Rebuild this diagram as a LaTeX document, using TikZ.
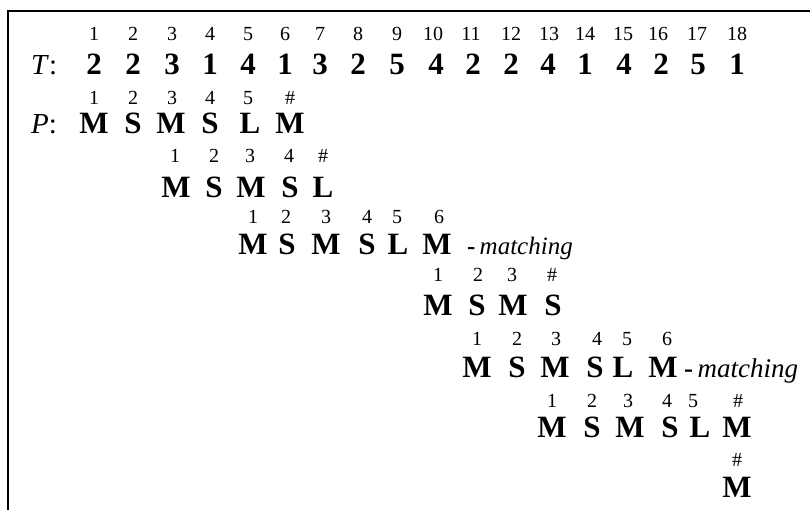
\documentclass[tikz,border=0pt]{standalone}
\usepackage{fontspec}
\setmainfont{Liberation Serif}
\begin{document}
\begin{tikzpicture}[x=1pt,y=-1pt,
  idx/.style={anchor=base,inner sep=0pt,font=\fontsize{20}{20}\selectfont},
  sym/.style={anchor=base,inner sep=0pt,font=\fontsize{31}{31}\selectfont\bfseries},
  lab/.style={anchor=base west,inner sep=0pt,font=\fontsize{29}{29}\selectfont},
  note/.style={anchor=base west,inner sep=0pt,font=\fontsize{25}{25}\selectfont},
  bignote/.style={note,font=\fontsize{27}{27}\selectfont},
  frame/.style={line width=2pt}]
\useasboundingbox (0,0) rectangle (810,510);
% frame
\coordinate (fbl) at (8,511);
\coordinate (ftl) at (8,11);
\coordinate (ftr) at (811,11);
\draw[frame] (fbl) -- (ftl) -- (ftr);
% text T
\node[lab] (tlab) at (31,75) {\textit{T}:};
\foreach \x/\t [count=\i] in {94/1,133/2,172/3,210/4,248/5,285/6,320/7,358/8,397/9,433/10,471/11,511/12,549/13,585/14,623/15,658/16,697/17,737/18}
  \node[idx] (ti\i) at (\x,41) {\t};
\foreach \x/\t [count=\i] in {94/2,133/2,172/3,210/1,248/4,285/1,320/3,358/2,397/5,436/4,473/2,511/2,548/4,585/1,624/4,661/2,698/5,737/1}
  \node[sym] (t\i) at (\x,75) {\t};
% pattern row 1
\node[lab] (plab) at (31,134) {\textit{P}:};
\foreach \x/\t [count=\i] in {94/1,133/2,172/3,210/4,248/5,290/\#}
  \node[idx] (ai\i) at (\x,105) {\t};
\foreach \x/\t [count=\i] in {94/M,133/S,171/M,210/S,250/L,290/M}
  \node[sym] (a\i) at (\x,134) {\t};
% row 2
\foreach \x/\t [count=\i] in {175/1,214/2,250/3,289/4,323/\#}
  \node[idx] (bi\i) at (\x,163) {\t};
\foreach \x/\t [count=\i] in {176/M,214/S,251/M,290/S,323/L}
  \node[sym] (b\i) at (\x,198) {\t};
% row 3
\foreach \x/\t [count=\i] in {253/1,286/2,326/3,367/4,397/5,439/6}
  \node[idx] (ci\i) at (\x,224) {\t};
\foreach \x/\t [count=\i] in {253/M,287/S,326/M,367/S,398/L,437/M}
  \node[sym] (c\i) at (\x,255) {\t};
\node[note] (cm) at (467,255) {{\bfseries -}\,\textit{matching}};
% row 4
\foreach \x/\t [count=\i] in {438/1,478/2,512/3,552/\#}
  \node[idx] (di\i) at (\x,282) {\t};
\foreach \x/\t [count=\i] in {438/M,477/S,513/M,553/S}
  \node[sym] (d\i) at (\x,315) {\t};
% row 5
\foreach \x/\t [count=\i] in {477/1,517/2,556/3,597/4,627/5,667/6}
  \node[idx] (ei\i) at (\x,345) {\t};
\foreach \x/\t [count=\i] in {477/M,517/S,555/M,595/S,623/L,663/M}
  \node[sym] (e\i) at (\x,377) {\t};
\node[bignote] (em) at (684,377) {{\bfseries -}\,\textit{matching}};
% row 6
\foreach \x/\t [count=\i] in {552/1,592/2,628/3,667/4,693/5,738/\#}
  \node[idx] (fi\i) at (\x,407) {\t};
\foreach \x/\t [count=\i] in {552/M,592/S,630/M,670/S,700/L,737/M}
  \node[sym] (f\i) at (\x,437) {\t};
% row 7
\node[idx] (gi1) at (737,466) {\#};
\node[sym] (g1) at (737,497) {M};
\end{tikzpicture}
\end{document}
